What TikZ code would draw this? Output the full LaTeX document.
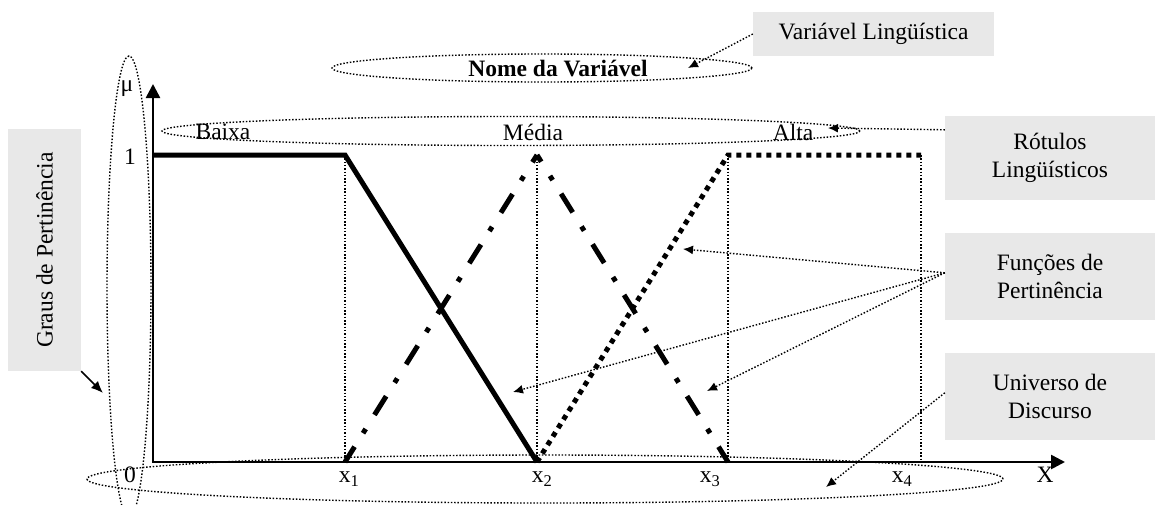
\documentclass[tikz,border=0pt]{standalone}
\usepackage{fontspec}
\setmainfont{Liberation Serif}
\usetikzlibrary{arrows.meta}
\definecolor{boxgray}{HTML}{E8E8E8}
\begin{document}
\begin{tikzpicture}[x=1pt,y=-1pt,
  font=\fontsize{23.5}{28}\selectfont,
  every node/.style={inner sep=0pt},
  graybox/.style={fill=boxgray, align=center, inner sep=0pt},
  annot/.style={line width=1.4pt, dash pattern=on 1.5pt off 1.8pt},
  guide/.style={line width=1.3pt, dash pattern=on 1.5pt off 1.8pt},
  pointer/.style={annot, -{Latex[length=10pt,width=9pt]}},
  axis/.style={line width=2.6pt, {Triangle[length=14pt,width=14pt]}-{Triangle[length=14pt,width=14pt]}},
  baixa/.style={line width=5pt, line join=miter},
  media/.style={line width=5pt, dash pattern=on 22pt off 16pt on 5pt off 16.6pt, dash phase=4pt},
  alta/.style={line width=5pt, dash pattern=on 5pt off 5pt}]
\useasboundingbox (0,0) rectangle (1155,504);

% annotation boxes
\node[graybox, minimum width=241pt, minimum height=44pt] (varling) at (873.5,34) {Variável Lingüística};
\node[graybox, minimum width=210pt, minimum height=84pt] (rotulos) at (1050,158) {Rótulos\\Lingüísticos};
\node[graybox, minimum width=210pt, minimum height=87pt] (funcoes) at (1050,276.5) {Funções de\\Pertinência};
\node[graybox, minimum width=210pt, minimum height=87pt] (universo) at (1050,396.5) {Universo de\\Discurso};
\node[graybox, rotate=90, minimum width=242pt, minimum height=73pt] (graus) at (44.5,250) {Graus de Pertinência};

% key points of the membership functions
\coordinate (O) at (153,462);
\coordinate (ytop) at (153,84);
\coordinate (xend) at (1065,462);
\coordinate (y1) at (153,155);
\coordinate (t1) at (345,155);
\coordinate (t2) at (537,155);
\coordinate (t3) at (728,155);
\coordinate (t4) at (921,155);
\coordinate (b1) at (345,462);
\coordinate (b2) at (537,462);
\coordinate (b3) at (728,462);
\coordinate (b4) at (921,462);

% guide lines
\draw[guide] (t1) -- (b1);
\draw[guide] (t2) -- (b2);
\draw[guide] (t3) -- (b3);
\draw[guide] (t4) -- (b4);

% axes
\draw[axis] (ytop) -- (O) -- (xend);

% membership functions
\draw[baixa] (y1) -- (t1) -- (b2);
\draw[media] (b1) -- (t2);
\draw[media] (b3) -- (t2);
\draw[alta] (b2) -- (t3) -- (t4);

% axis labels
\node (mu) at (127,89) {μ};
\node (one) at (130,157) {1};
\node (zero) at (130,475) {0};
\node (lx1) at (349,479) {x\textsubscript{1}};
\node (lx2) at (542,479) {x\textsubscript{2}};
\node (lx3) at (710,479) {x\textsubscript{3}};
\node (lx4) at (902,479) {x\textsubscript{4}};
\node (lX) at (1045,475) {X};

% linguistic labels
\node (nome) at (558,69) {\bfseries Nome da Variável};
\node (baixaL) at (223,132) {Baixa};
\node (mediaL) at (533,132) {Média};
\node (altaL) at (793,132) {Alta};

% grouping ellipses
\draw[annot] (542,68) ellipse [x radius=210pt, y radius=14pt];
\draw[annot] (511,131) ellipse [x radius=349pt, y radius=14.5pt];
\draw[annot] (129,287) ellipse [x radius=22pt, y radius=231pt];
\draw[annot] (545,479) ellipse [x radius=458pt, y radius=24pt];

% pointers
\coordinate (pNome) at (688,68);
\coordinate (pRot) at (828,128);
\coordinate (pF1) at (683,249);
\coordinate (pF2) at (513,392);
\coordinate (pF3) at (707,391);
\coordinate (pU) at (826,487);
\coordinate (pG) at (103,393);
\draw[pointer] (varling.west) -- (pNome);
\draw[pointer] ([yshift=-14pt]rotulos.north west) -- (pRot);
\draw[pointer] ([yshift=-40pt]funcoes.north west) -- (pF1);
\draw[pointer] ([yshift=-40pt]funcoes.north west) -- (pF2);
\draw[pointer] ([yshift=-40pt]funcoes.north west) -- (pF3);
\draw[pointer] ([yshift=-40pt]universo.north west) -- (pU);
\draw[line width=1.5pt, -{Latex[length=12pt,width=10pt]}] (graus.south west) -- (pG);
\end{tikzpicture}
\end{document}
